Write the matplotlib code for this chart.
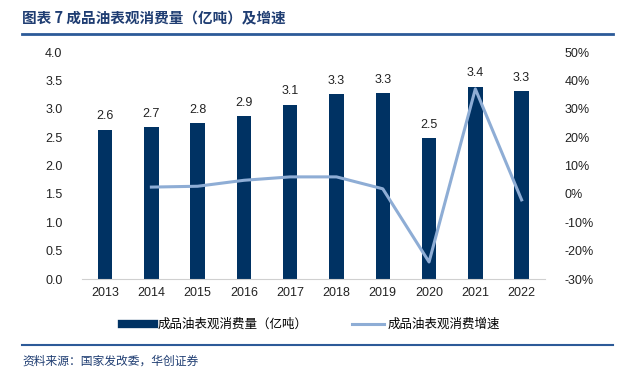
import matplotlib.pyplot as plt
import matplotlib.lines as mlines
from matplotlib.ticker import FuncFormatter

plt.rcParams['font.family'] = ['Liberation Sans', 'Noto Sans CJK SC', 'DejaVu Sans']

years = ['2013', '2014', '2015', '2016', '2017', '2018', '2019', '2020', '2021', '2022']
consumption = [2.63, 2.68, 2.75, 2.87, 3.07, 3.26, 3.28, 2.48, 3.39, 3.31]
growth_years = years[1:]
growth = [0.024, 0.027, 0.048, 0.060, 0.060, 0.018, -0.240, 0.370, -0.021]

bar_color = '#003263'
line_color = '#8eadd5'
title_color = '#1f3d72'
rule_color = '#2c5a98'

fig = plt.figure(figsize=(6.22, 3.72), dpi=100)
ax = fig.add_axes([0.1318, 0.25, 0.744, 0.61])
ax2 = ax.twinx()

x = list(range(len(years)))
ax.bar(x, consumption, width=0.31, color=bar_color, zorder=2)
for xi, v in zip(x, consumption):
    ax.text(xi, v + 0.13, f'{v:.1f}', ha='center', va='bottom', fontsize=9, color='#222222')

gx = [years.index(y) for y in growth_years]
ax2.plot(gx, growth, color=line_color, linewidth=2.2, zorder=3)

ax.set_xlim(-0.5, len(years) - 0.5)
ax.set_ylim(0, 4)
ax.set_yticks([0, 0.5, 1, 1.5, 2, 2.5, 3, 3.5, 4])
ax.yaxis.set_major_formatter(FuncFormatter(lambda v, p: f'{v:.1f}'))
ax.set_xticks(x)
ax.set_xticklabels(years)
ax2.set_ylim(-0.3, 0.5)
ax2.set_yticks([-0.3, -0.2, -0.1, 0, 0.1, 0.2, 0.3, 0.4, 0.5])
ax2.yaxis.set_major_formatter(FuncFormatter(lambda v, p: f'{v * 100:.0f}%'))

for a in (ax, ax2):
    for s in ('top', 'left', 'right', 'bottom'):
        a.spines[s].set_visible(False)
    a.tick_params(length=0, labelsize=9, colors='#222222')
ax.spines['bottom'].set_visible(True)
ax.spines['bottom'].set_color('#d0d0d0')
ax.tick_params(axis='x', pad=6)
ax.tick_params(axis='y', pad=14)
ax2.tick_params(axis='y', pad=14)
ax2.set_zorder(ax.get_zorder() + 1)
ax2.patch.set_visible(False)

# legend
h1 = mlines.Line2D([], [], color=bar_color, linewidth=6)
h2 = mlines.Line2D([], [], color=line_color, linewidth=2.2)
fig.legend([h1, h2], ['成品油表观消费量（亿吨）', '成品油表观消费增速'],
           loc='center', bbox_to_anchor=(0.5, 0.127), ncol=2, frameon=False,
           fontsize=9, handlelength=2.6, columnspacing=3.5, handletextpad=0.3)

# title and rules
fig.text(0.036, 0.952, '图表 7 成品油表观消费量（亿吨）及增速', fontsize=10.5, fontweight='bold',
         color=title_color, ha='left', va='center', family=['Noto Sans CJK SC'])
fig.add_artist(mlines.Line2D([0.036, 0.986], [0.909, 0.909], color=rule_color, linewidth=2))
fig.add_artist(mlines.Line2D([0.036, 0.986], [0.073, 0.073], color=rule_color, linewidth=1.5))
fig.text(0.036, 0.030, '资料来源：国家发改委，华创证券', fontsize=8.5, style='italic',
         color=title_color, ha='left', va='center', family=['Noto Sans CJK SC'])

fig.savefig('out.png', dpi=100)
